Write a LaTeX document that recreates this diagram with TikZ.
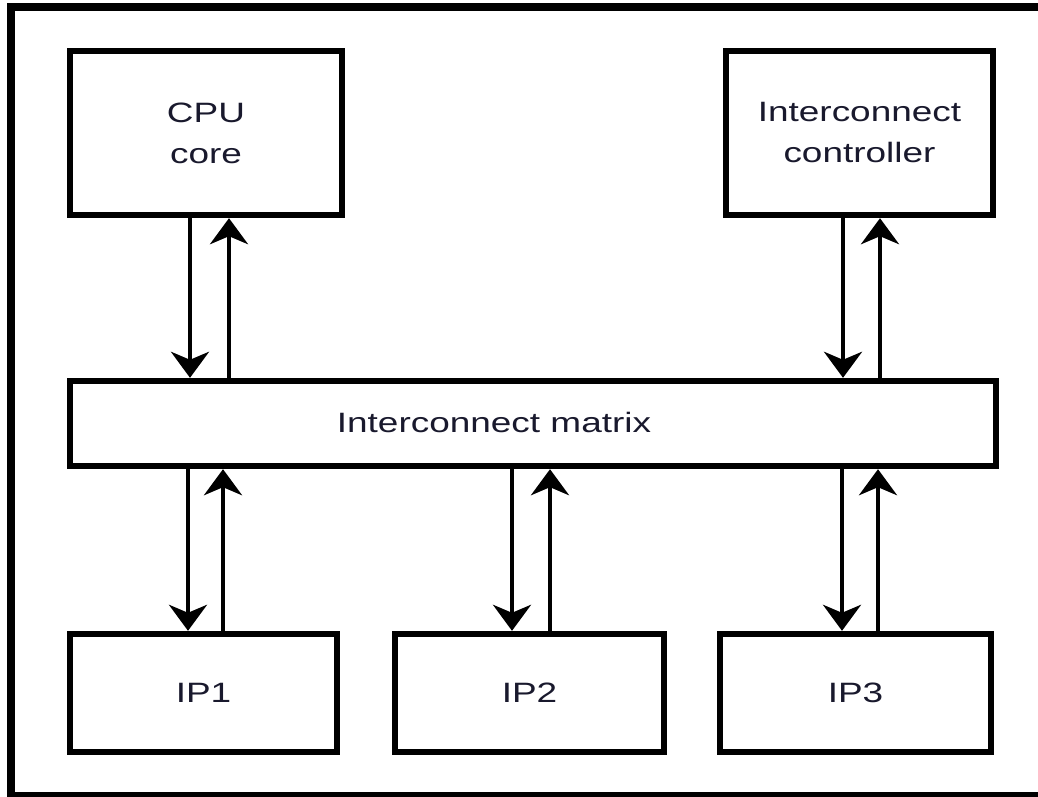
\documentclass[tikz,border=0pt]{standalone}
\usepackage{fontspec}
\setmainfont{Liberation Sans}
\usepackage{graphicx}
\usetikzlibrary{arrows.meta}
\definecolor{txtcol}{RGB}{25,25,45}
\newcommand{\wtext}[1]{\scalebox{1.32}[1]{#1}}

\begin{document}
\begin{tikzpicture}[x=0.5pt,y=-0.5pt,
    blk/.style={draw,line width=3.2pt,inner sep=0pt,align=center,
        font=\fontsize{14}{20.5}\selectfont,text=txtcol},
    bus/.style={line width=2pt,-{Stealth[length=13pt,width=19pt,inset=4pt]}}]
    \clip (0,0) rectangle (1038,797);
    \draw[line width=3.6pt] (11,7) rectangle (1060,796);
    \node[blk,minimum width=136pt,minimum height=82pt] (cpu) at (206,133)
        {\wtext{CPU}\\\wtext{core}};
    \node[blk,minimum width=133.5pt,minimum height=82pt] (ctrl) at (859.5,133)
        {\wtext{Interconnect}\\\wtext{controller}};
    \node[blk,minimum width=463pt,minimum height=42.5pt] (mat) at (533,423.5) {};
    \node[font=\fontsize{14}{20.5}\selectfont,text=txtcol] (matlbl) at (494,422)
        {\wtext{Interconnect matrix}};
    \node[blk,minimum width=133.5pt,minimum height=59pt] (ip1) at (203.5,693) {\wtext{IP1}};
    \node[blk,minimum width=134.5pt,minimum height=59pt] (ip2) at (529.5,693) {\wtext{IP2}};
    \node[blk,minimum width=135.5pt,minimum height=59pt] (ip3) at (855.5,693) {\wtext{IP3}};
    \foreach \n/\d/\u in {cpu/-8/11.5, ctrl/-8.25/10.25} {
        \draw[bus] ([xshift=\d pt]\n.south) -- ([xshift=\d pt]\n.south |- mat.north);
        \draw[bus] ([xshift=\u pt]\n.south |- mat.north) -- ([xshift=\u pt]\n.south);
    }
    \foreach \n/\d/\u in {ip1/-7.75/9.75, ip2/-8.75/10.25, ip3/-6.75/11.25} {
        \draw[bus] ([xshift=\d pt]\n.north |- mat.south) -- ([xshift=\d pt]\n.north);
        \draw[bus] ([xshift=\u pt]\n.north) -- ([xshift=\u pt]\n.north |- mat.south);
    }
\end{tikzpicture}
\end{document}
